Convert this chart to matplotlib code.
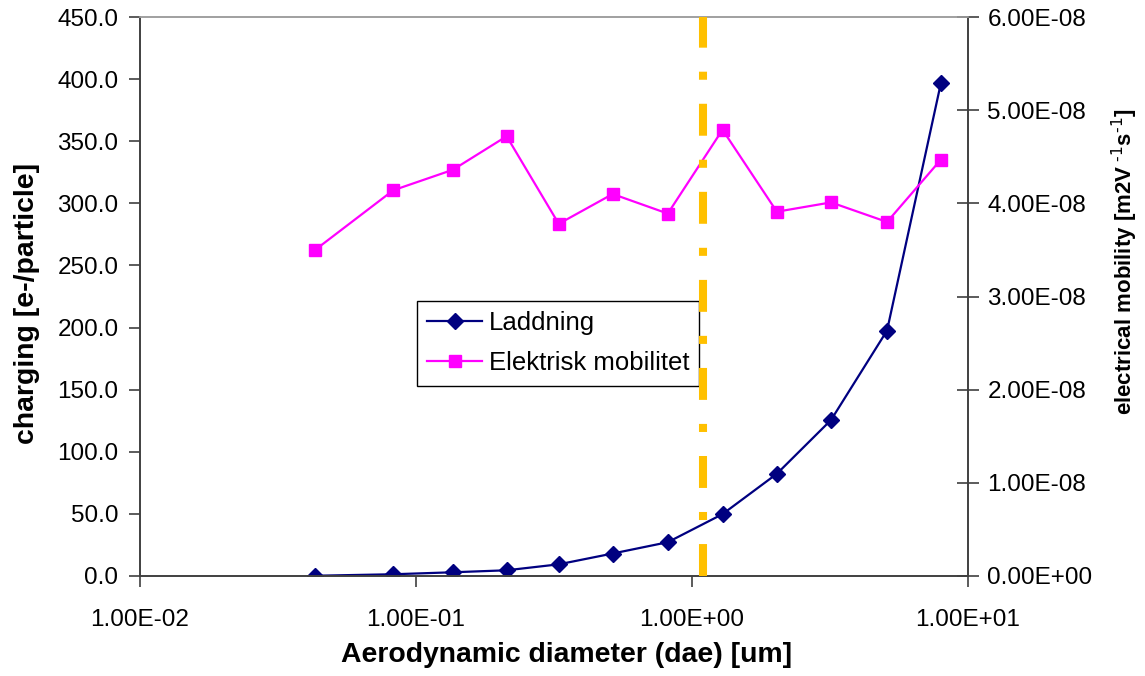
import matplotlib
matplotlib.use("Agg")
import matplotlib.pyplot as plt
from matplotlib.ticker import FuncFormatter, FixedLocator, NullLocator

plt.rcParams['font.family'] = ['Liberation Sans', 'DejaVu Sans']
plt.rcParams['mathtext.default'] = 'regular'
plt.rcParams['lines.scale_dashes'] = False

# aerodynamic diameter (um), shared by both series
diameter = [0.0431, 0.0827, 0.136, 0.213, 0.329, 0.516, 0.817, 1.29, 2.03, 3.19, 5.09, 7.98]
# charging [e-/particle]
charging = [0.2, 1.4, 3.0, 4.6, 9.4, 18.1, 27.2, 49.8, 82.3, 125.6, 197.6, 397.0]
# electrical mobility [m2 V-1 s-1]
mobility = [3.50e-8, 4.14e-8, 4.36e-8, 4.72e-8, 3.78e-8, 4.10e-8, 3.89e-8,
            4.79e-8, 3.91e-8, 4.01e-8, 3.80e-8, 4.47e-8]
cut_diameter = 1.1

series_names = ["Laddning", "Elektrisk mobilitet"]
x_ticks = [0.01, 0.1, 1, 10]
left_ticks = [0, 50, 100, 150, 200, 250, 300, 350, 400, 450]
right_ticks = [0, 1e-8, 2e-8, 3e-8, 4e-8, 5e-8, 6e-8]

TICK_FS = 17.5
LABEL_FS = 20.4

fig = plt.figure(figsize=(11.45, 6.76), dpi=100)
ax = fig.add_axes([140 / 1145, 1 - 576 / 676, 828 / 1145, 559 / 676])
ax2 = ax.twinx()

l1, = ax.plot(diameter, charging, color="#000080", lw=1.6, marker="D", ms=7.8,
              label=series_names[0])
l2, = ax2.plot(diameter, mobility, color="#FF00FF", lw=1.6, marker="s", ms=8.8,
               label=series_names[1])

ax.set_xscale("log")
ax.set_xlim(0.01, 10)
ax.set_ylim(0, 450)
ax2.set_ylim(0, 6e-8)

ax.xaxis.set_major_locator(FixedLocator(x_ticks))
ax.xaxis.set_minor_locator(NullLocator())
ax.xaxis.set_major_formatter(FuncFormatter(lambda v, p: "{:.2E}".format(v)))
ax.set_yticks(left_ticks)
ax.yaxis.set_major_formatter(FuncFormatter(lambda v, p: "{:.1f}".format(v)))
ax2.set_yticks(right_ticks)
ax2.yaxis.set_major_formatter(FuncFormatter(lambda v, p: "{:.2E}".format(v)))

ax.tick_params(axis="both", labelsize=TICK_FS, length=8, width=1.2, color="#404040")
ax.tick_params(axis="y", pad=7.5)
ax.tick_params(axis="x", pad=16)
ax2.tick_params(axis="y", labelsize=TICK_FS, length=16, width=1.2, direction="inout",
                color="#404040", pad=6)

for a in (ax, ax2):
    for s in a.spines.values():
        s.set_linewidth(1.2)
        s.set_color("#404040")
    a.spines["top"].set_color("#A0A0A0")

ax.set_xlabel("Aerodynamic diameter (dae) [um]", fontsize=LABEL_FS, fontweight="bold",
              va="center")
ax.set_ylabel("charging [e-/particle]", fontsize=LABEL_FS, fontweight="bold",
              va="center")
ax2.set_ylabel(r"electrical mobility [m2V$^{\text{ -1}}$s$^{\text{-1}}$]", fontsize=16,
               fontweight="bold", va="center")
ax.xaxis.set_label_coords(0.515, -0.141)
ax.yaxis.set_label_coords(-0.136, 0.487)
ax2.yaxis.set_label_coords(1.189, 0.562)

vline = ax2.axvline(cut_diameter, color="#FFC000", lw=5.8, zorder=5)
vline.set_dashes([23, 17.3, 5.8, 17.3])

leg = ax2.legend(handles=[l1, l2], loc="upper left",
                 bbox_to_anchor=(417 / 1145, 1 - 301 / 676),
                 bbox_transform=fig.transFigure, borderaxespad=0,
                 fontsize=18.5, frameon=True, fancybox=False, framealpha=1,
                 edgecolor="black", handlelength=2.14, handletextpad=0.25,
                 labelspacing=0.63, borderpad=0.4)
leg.get_frame().set_linewidth(1.0)
leg.set_zorder(4)

fig.savefig("out.png", dpi=100)
